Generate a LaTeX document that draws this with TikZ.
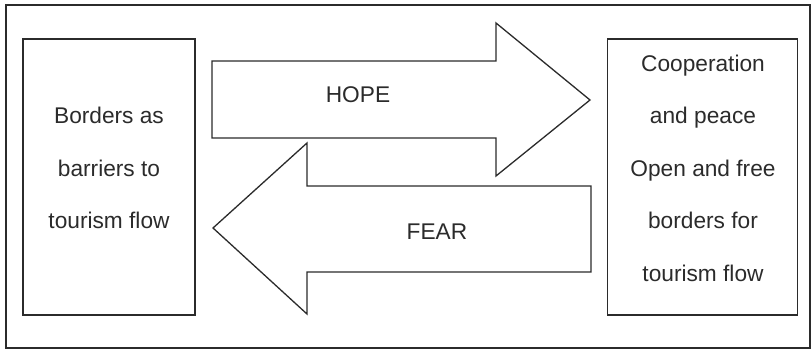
\documentclass[tikz,border=0pt]{standalone}
\usepackage{fontspec}
\setmainfont{Liberation Sans}
\definecolor{ink}{HTML}{2B2B2B}
\tikzset{
  frameline/.style={draw=ink, line width=1.6pt},
  boxline/.style={draw=ink, line width=1.4pt},
  arrowshape/.style={draw=ink, line width=1.3pt, line join=miter, fill=white},
  boxtext/.style={align=center, text=ink, font=\fontsize{22.7}{52.5}\selectfont, inner sep=0pt},
  arrowtext/.style={text=ink, font=\fontsize{22.7}{27}\selectfont, inner sep=0pt}
}
\begin{document}
\begin{tikzpicture}[x=1pt, y=-1pt]
  \useasboundingbox (0,0) rectangle (812,352);
  % outer frame
  \draw[frameline] (6,5) rectangle (810,348);
  % side boxes
  \node[boxline, minimum width=172pt, minimum height=276pt, inner sep=0pt] (left) at (109,177) {};
  \node[boxline, minimum width=190pt, minimum height=276pt, inner sep=0pt] (right) at (702.5,177) {};
  \node[boxtext] (lefttext) at (109,168) {Borders as\\barriers to\\tourism flow};
  \node[boxtext] (righttext) at (703,168) {Cooperation\\and peace\\Open and free\\borders for\\tourism flow};
  % HOPE arrow, pointing right
  \draw[arrowshape] (212,61) -- (496,61) -- (496,23) -- (590,100) -- (496,176) -- (496,138) -- (212,138) -- cycle;
  % FEAR arrow, pointing left
  \draw[arrowshape] (591,186) -- (307,186) -- (307,143) -- (213,228) -- (307,314) -- (307,272) -- (591,272) -- cycle;
  \node[arrowtext] (hope) at (358,95) {HOPE};
  \node[arrowtext] (fear) at (437,232) {FEAR};
\end{tikzpicture}
\end{document}
